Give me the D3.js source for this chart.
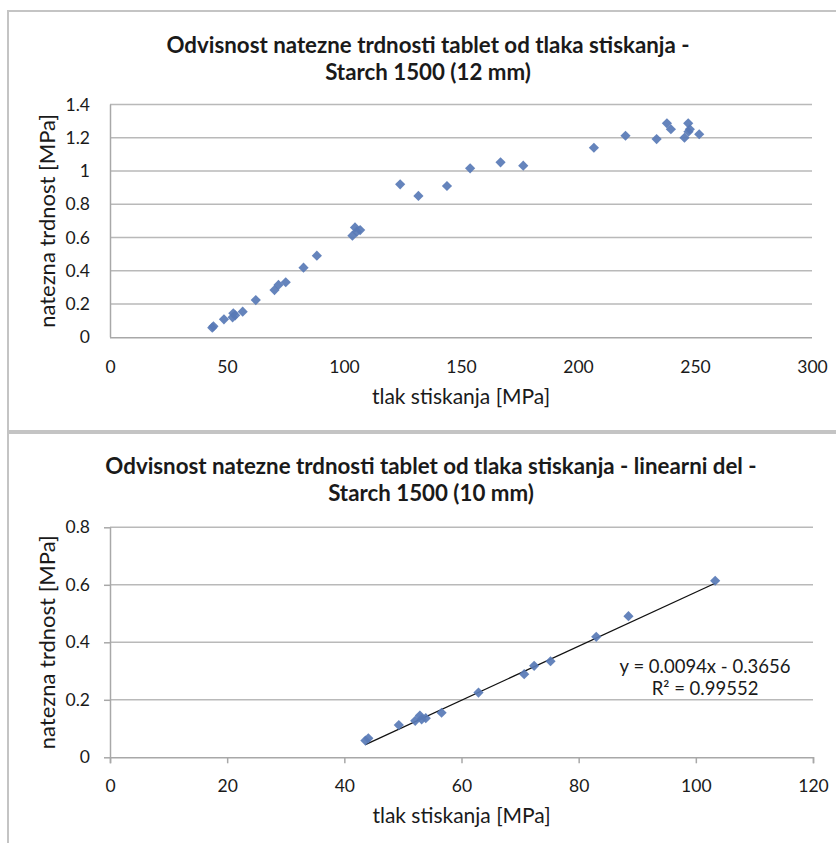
<!DOCTYPE html>
<html>
<head>
<meta charset="utf-8">
<script src="https://cdn.jsdelivr.net/npm/d3@7"></script>
<style>
  body { margin: 0; background: #fff; }
  svg { display: block; }
  text { font-family: Lato, "Open Sans", sans-serif; fill: #1a1a1a; }
</style>
</head>
<body>
<svg id="chart" width="836" height="843"></svg>
<script>
// Whole compaction range (12 mm tablets)
const fullPressure = [43.7, 44.2, 48.7, 52.4, 52.7, 53.5, 56.7, 62.3, 70.3, 72.0, 75.1, 82.7, 88.4,
  103.6, 104.7, 105.5, 106.9, 124.0, 131.8, 144.0, 153.9, 166.9, 176.6, 206.8, 220.3, 233.6,
  238.0, 239.7, 245.5, 247.1, 247.2, 247.8, 251.8];
const fullStrength = [0.058, 0.066, 0.108, 0.120, 0.144, 0.132, 0.154, 0.224, 0.284, 0.315, 0.331, 0.419, 0.491,
  0.611, 0.661, 0.635, 0.645, 0.920, 0.850, 0.910, 1.016, 1.052, 1.032, 1.140, 1.212, 1.192,
  1.287, 1.251, 1.200, 1.287, 1.236, 1.251, 1.221];

// Linear part (10 mm tablets)
const linPressure = [43.6, 44.1, 49.3, 52.1, 52.9, 53.2, 53.9, 56.6, 62.9, 70.7, 72.4, 75.2, 83.0, 88.5, 103.3];
const linStrength = [0.058, 0.066, 0.112, 0.127, 0.145, 0.132, 0.136, 0.155, 0.225, 0.289, 0.318, 0.334, 0.419, 0.491, 0.614];

// Linear fit shown on the second chart
const fitSlope = 0.0094;
const fitIntercept = -0.3656;
const fitR2 = 0.99552;

const fullXTicks = [0, 50, 100, 150, 200, 250, 300];
const fullYTicks = [0, 0.2, 0.4, 0.6, 0.8, 1, 1.2, 1.4];
const linXTicks = [0, 20, 40, 60, 80, 100, 120];
const linYTicks = [0, 0.2, 0.4, 0.6, 0.8];

const titleFull = ["Odvisnost natezne trdnosti tablet od tlaka stiskanja -", "Starch 1500 (12 mm)"];
const titleLin = ["Odvisnost natezne trdnosti tablet od tlaka stiskanja - linearni del -", "Starch 1500 (10 mm)"];
const xTitle = "tlak stiskanja [MPa]";
const yTitle = "natezna trdnost [MPa]";

const svg = d3.select("#chart");
const markerColor = "#5879b6";
const gridColor = "#b9b9b9";
const frameColor = "#c4c4c4";

function drawPanel(cfg) {
  const g = svg.append("g");

  // chart frame
  g.append("rect")
    .attr("x", cfg.frame[0]).attr("y", cfg.frame[1])
    .attr("width", cfg.frame[2]).attr("height", cfg.frame[3])
    .attr("fill", "#fff").attr("stroke", frameColor).attr("stroke-width", 2);

  const x = d3.scaleLinear().domain([cfg.xTicks[0], cfg.xTicks[cfg.xTicks.length - 1]])
    .range([cfg.plot.left, cfg.plot.right]);
  const y = d3.scaleLinear().domain([cfg.yTicks[0], cfg.yTicks[cfg.yTicks.length - 1]])
    .range([cfg.plot.bottom, cfg.plot.top]);

  // horizontal gridlines
  g.append("g").selectAll("line").data(cfg.yTicks.slice(1)).join("line")
    .attr("x1", cfg.plot.left).attr("x2", cfg.plot.right)
    .attr("y1", d => y(d)).attr("y2", d => y(d))
    .attr("stroke", gridColor).attr("stroke-width", 1.5);

  // axes
  const xAxis = d3.axisBottom(x).tickValues(cfg.xTicks).tickFormat(d => String(d))
    .tickSizeInner(cfg.tick).tickSizeOuter(cfg.tick).tickPadding(cfg.xPad);
  const yAxis = d3.axisLeft(y).tickValues(cfg.yTicks).tickFormat(d => String(d))
    .tickSizeInner(cfg.tick).tickSizeOuter(0).tickPadding(cfg.yPad);

  const gx = g.append("g").attr("transform", `translate(0,${cfg.plot.bottom})`).call(xAxis);
  const gy = g.append("g").attr("transform", `translate(${cfg.plot.left},0)`).call(yAxis);
  [gx, gy].forEach(a => {
    a.selectAll("path").attr("stroke", "#a8a8a8").attr("stroke-width", 1.5);
    a.selectAll("line").attr("stroke", "#a8a8a8").attr("stroke-width", 1.5);
    a.selectAll("text").attr("font-size", 17.5).style("font-family", "Lato, sans-serif").attr("fill", "#1a1a1a");
  });
  if (cfg.tick === 0) gx.select("path").attr("d", `M${cfg.plot.left},0.5H${cfg.plot.right}`);
  gy.select("path").attr("d", `M0.5,${cfg.plot.bottom}V${cfg.plot.top}`);

  // trend line
  if (cfg.fit) {
    const xs = d3.extent(cfg.xs);
    g.append("line")
      .attr("x1", x(xs[0])).attr("y1", y(cfg.fit.slope * xs[0] + cfg.fit.intercept))
      .attr("x2", x(xs[1])).attr("y2", y(cfg.fit.slope * xs[1] + cfg.fit.intercept))
      .attr("stroke", "#111").attr("stroke-width", 1.3);
  }

  // data markers (diamonds)
  g.append("g").selectAll("path").data(cfg.xs.map((v, i) => [v, cfg.ys[i]])).join("path")
    .attr("d", d3.symbol().type(d3.symbolSquare).size(52))
    .attr("transform", d => `translate(${x(d[0])},${y(d[1])}) rotate(45)`)
    .attr("fill", markerColor).attr("fill-opacity", 0.92);

  if (cfg.fit) {
    const lab = g.append("text").attr("text-anchor", "middle").attr("font-size", 18.5);
    lab.append("tspan").attr("x", cfg.fitLabel[0]).attr("y", cfg.fitLabel[1])
      .text(`y = ${cfg.fit.slope}x - ${Math.abs(cfg.fit.intercept)}`);
    lab.append("tspan").attr("x", cfg.fitLabel[0]).attr("y", cfg.fitLabel[1] + 22)
      .text(`R² = ${cfg.fit.r2}`);
  }

  // titles
  cfg.title.forEach((t, i) => {
    g.append("text").attr("x", cfg.titleX).attr("y", cfg.titleY + i * 27)
      .attr("text-anchor", "middle").attr("font-size", 22.3).attr("font-weight", "bold")
      .text(t);
  });
  g.append("text").attr("x", (cfg.plot.left + cfg.plot.right) / 2).attr("y", cfg.xTitleY)
    .attr("text-anchor", "middle").attr("font-size", 21).text(xTitle);
  g.append("text")
    .attr("transform", `translate(${cfg.yTitleX},${(cfg.plot.top + cfg.plot.bottom) / 2}) rotate(-90)`)
    .attr("text-anchor", "middle").attr("font-size", 22).text(yTitle);
}

drawPanel({
  frame: [8, 11, 840, 420],
  plot: { left: 110, right: 812, top: 104.5, bottom: 337.3 },
  xTicks: fullXTicks, yTicks: fullYTicks,
  xs: fullPressure, ys: fullStrength,
  tick: 0, xPad: 23, yPad: 20,
  title: titleFull, titleX: 428, titleY: 53,
  xTitleY: 404, yTitleX: 55
});

drawPanel({
  frame: [8, 433, 840, 420],
  plot: { left: 110, right: 813, top: 527.3, bottom: 757.3 },
  xTicks: linXTicks, yTicks: linYTicks,
  xs: linPressure, ys: linStrength,
  tick: 6, xPad: 16.5, yPad: 14,
  fit: { slope: fitSlope, intercept: fitIntercept, r2: fitR2 },
  fitLabel: [705, 673],
  title: titleLin, titleX: 431, titleY: 474,
  xTitleY: 823, yTitleX: 55
});
</script>
</body>
</html>
